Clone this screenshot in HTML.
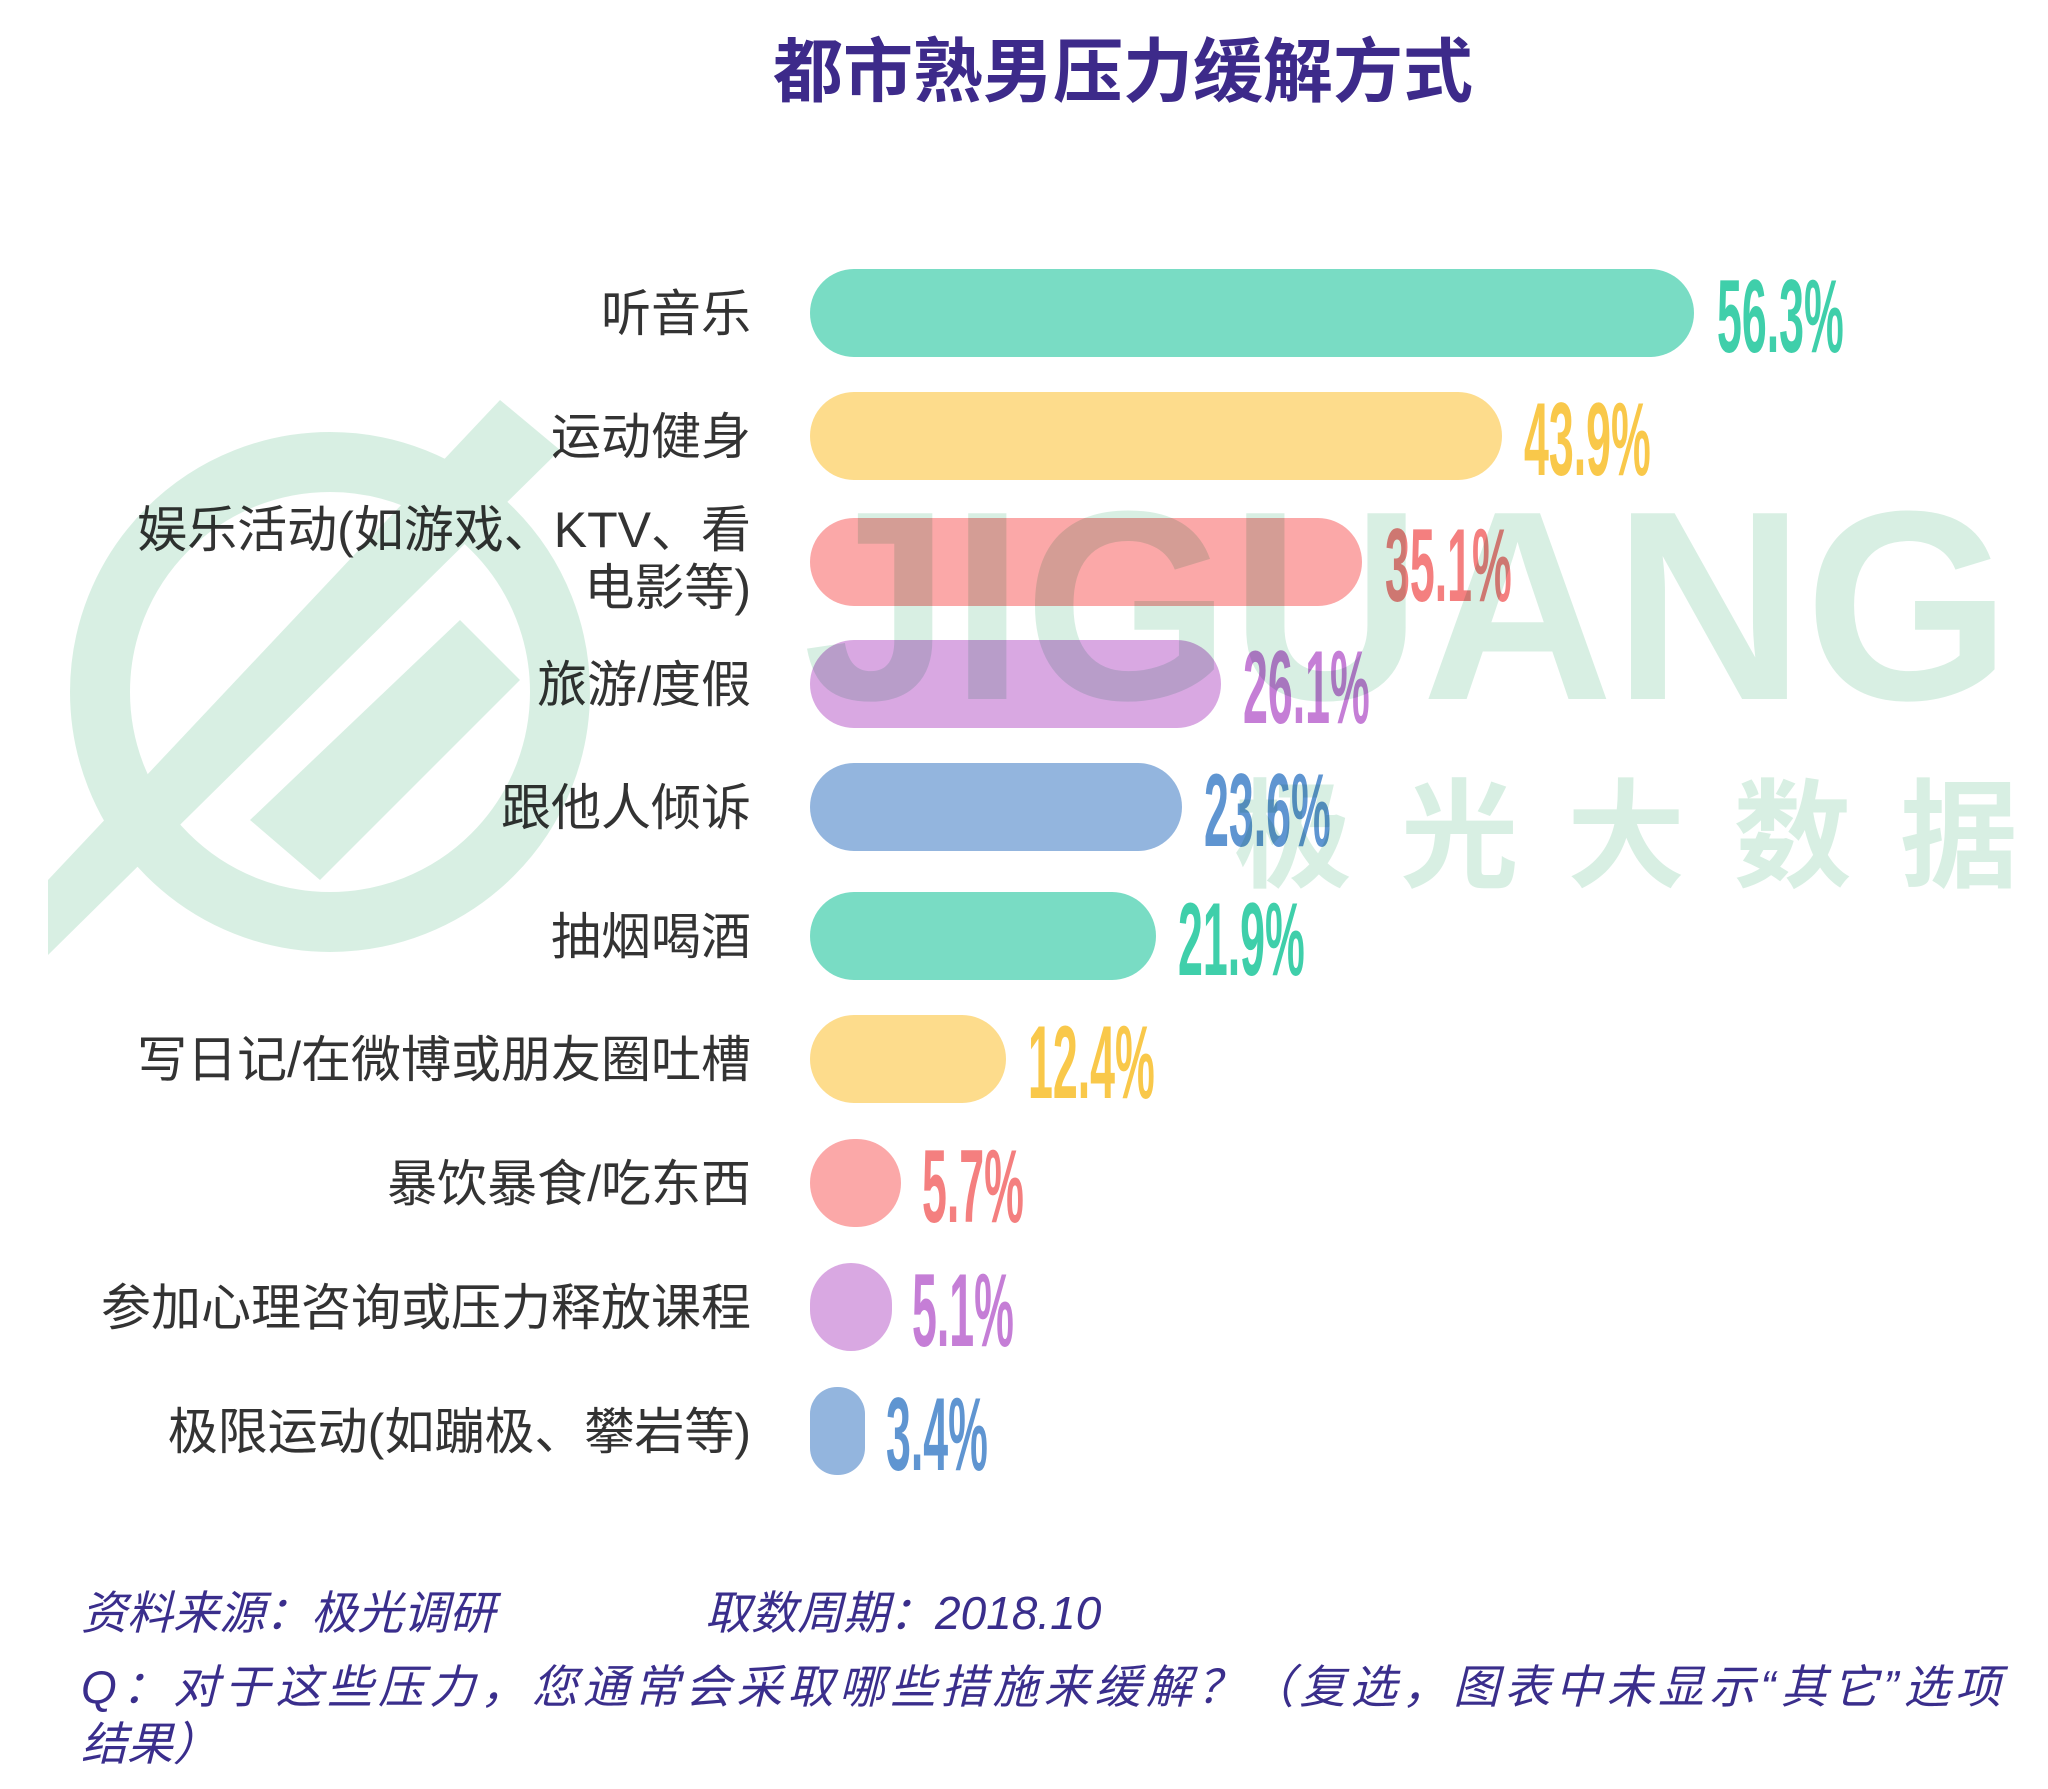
<!DOCTYPE html>
<html><head><meta charset="utf-8"><style>
body{margin:0;background:#fff;}
svg{display:block}
text{font-family:"Liberation Sans","Noto Sans CJK SC",sans-serif}
</style></head><body>
<svg width="2048" height="1789" viewBox="0 0 2048 1789" xmlns="http://www.w3.org/2000/svg">
<rect width="2048" height="1789" fill="#fff"/>
<text x="1123" y="96" text-anchor="middle" font-size="70" font-weight="bold" fill="#3d2a8a">都市熟男压力缓解方式</text>
<g font-size="50" fill="#333" text-anchor="end">
<text x="751" y="331">听音乐</text>
<text x="751" y="454">运动健身</text>
<text x="751" y="547">娱乐活动(如游戏、KTV、看</text>
<text x="751" y="605">电影等)</text>
<text x="751" y="702">旅游/度假</text>
<text x="751" y="825">跟他人倾诉</text>
<text x="751" y="954">抽烟喝酒</text>
<text x="751" y="1077">写日记/在微博或朋友圈吐槽</text>
<text x="751" y="1201">暴饮暴食/吃东西</text>
<text x="751" y="1325">参加心理咨询或压力释放课程</text>
<text x="751" y="1449">极限运动(如蹦极、攀岩等)</text>
</g>
<g>
<rect x="810" y="269" width="884" height="88" rx="44" fill="#79dcc4"/>
<rect x="810" y="392" width="692" height="88" rx="44" fill="#fddc8c"/>
<rect x="810" y="518" width="552" height="88" rx="44" fill="#fba8a8"/>
<rect x="810" y="640" width="411" height="88" rx="44" fill="#d9a8e2"/>
<rect x="810" y="763" width="372" height="88" rx="44" fill="#93b5de"/>
<rect x="810" y="892" width="346" height="88" rx="44" fill="#79dcc4"/>
<rect x="810" y="1015" width="196" height="88" rx="44" fill="#fddc8c"/>
<rect x="810" y="1139" width="91" height="88" rx="44" fill="#fba8a8"/>
<rect x="810" y="1263" width="82" height="88" rx="41" fill="#d9a8e2"/>
<rect x="810" y="1387" width="55" height="88" rx="27" fill="#93b5de"/>
</g>
<g font-size="104" font-weight="bold">
<text transform="translate(1717,352) scale(0.43,1)" fill="#3fcfaa">56.3%</text>
<text transform="translate(1524,475) scale(0.43,1)" fill="#f9c84a">43.9%</text>
<text transform="translate(1385,601) scale(0.43,1)" fill="#f47f7f">35.1%</text>
<text transform="translate(1243,723) scale(0.43,1)" fill="#c57ed6">26.1%</text>
<text transform="translate(1204,846) scale(0.43,1)" fill="#5f95d1">23.6%</text>
<text transform="translate(1178,975) scale(0.43,1)" fill="#3fcfaa">21.9%</text>
<text transform="translate(1028,1098) scale(0.43,1)" fill="#f9c84a">12.4%</text>
<text transform="translate(922,1222) scale(0.43,1)" fill="#f47f7f">5.7%</text>
<text transform="translate(912,1346) scale(0.43,1)" fill="#c57ed6">5.1%</text>
<text transform="translate(886,1470) scale(0.43,1)" fill="#5f95d1">3.4%</text>
</g>
<g style="mix-blend-mode:multiply" opacity="0.9">
<circle cx="330" cy="692" r="230" fill="none" stroke="#d4eee0" stroke-width="60"/>
<polygon points="48,880 48,955 560,450 500,400" fill="#d4eee0"/>
<polygon points="250,820 320,880 520,680 460,620" fill="#d4eee0"/>
<text x="803" y="699" font-size="270" font-weight="bold" fill="#d4eee0" textLength="1208" lengthAdjust="spacingAndGlyphs">JIGUANG</text>
<text x="1234" y="878" font-size="118" font-weight="bold" fill="#d4eee0" textLength="784" lengthAdjust="spacing">极光大数据</text>
</g>
<g font-size="46" font-style="italic" fill="#3a2e8c">
<text x="81" y="1629">资料来源：极光调研</text>
<text x="705" y="1629">取数周期：2018.10</text>
<text x="81" y="1703" textLength="1920" lengthAdjust="spacing">Q：对于这些压力，您通常会采取哪些措施来缓解？（复选，图表中未显示“其它”选项</text>
<text x="81" y="1760">结果）</text>
</g>
</svg>
</body></html>
